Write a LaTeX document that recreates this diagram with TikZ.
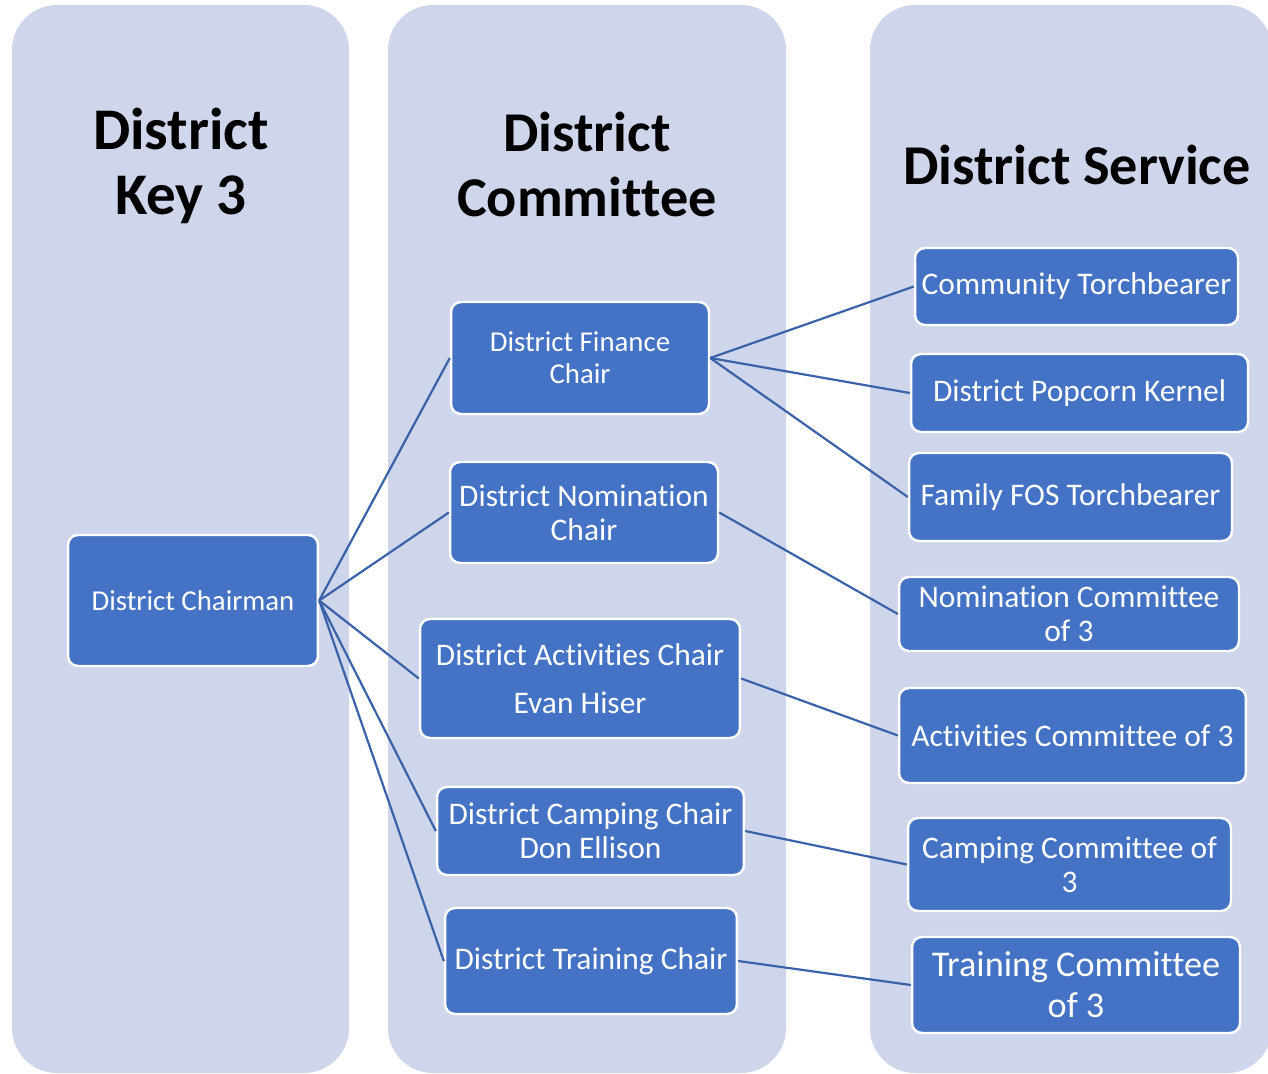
\documentclass[tikz,border=0pt]{standalone}
\usepackage{fontspec}
\setmainfont{Carlito}[Ligatures={NoCommon}]
\usetikzlibrary{positioning}
\definecolor{lanebg}{HTML}{CFD5EA}
\definecolor{roleblue}{HTML}{4472C4}
\definecolor{linkblue}{HTML}{3A62A9}

\tikzset{
  lane/.style={fill=lanebg, rounded corners=0.9cm},
  head/.style={font=\bfseries\fontsize{32}{37}\selectfont, align=center, inner sep=0pt},
  role/.style={fill=roleblue, draw=white, line width=1.4pt, rounded corners=0.2cm,
    text=white, align=center, inner sep=0pt, font=\fontsize{17.9}{19.3}\selectfont},
  small/.style={font=\fontsize{16.4}{18.1}\selectfont},
  big/.style={font=\fontsize{20.6}{23.2}\selectfont},
  link/.style={draw=linkblue, line width=1.25pt}
}

\begin{document}
\begin{tikzpicture}[x=0.02cm, y=-0.02cm]
  \useasboundingbox (0,0) rectangle (1268,1074);

  % Draw the lanes
  \fill[lane] (12,5) rectangle (349,1073);
  \fill[lane] (388,5) rectangle (786,1073);
  \fill[lane] (870,5) rectangle (1272,1073);

  % Lane headings
  \node[head, font=\bfseries\fontsize{33.6}{37}\selectfont] (keyhead) at (181,166) {District\\Key 3};
  \node[head] (comhead) at (587,164) {District\\Committee};
  \node[head] (srvhead) at (1077,165) {District Service};

  % Key 3
  \node[role, small, minimum width=5cm, minimum height=2.62cm] (chairman) at (193,600.5) {District Chairman};

  % Committee chairs
  \node[role, small, minimum width=5.16cm, minimum height=2.24cm] (finance) at (580,358) {District Finance\\Chair};
  \node[role, minimum width=5.36cm, minimum height=2.02cm] (nomination) at (584,512.5) {District Nomination\\Chair};
  \node[role, minimum width=6.4cm, minimum height=2.38cm] (activities) at (580,678.5) {District Activities Chair\\[7.9pt]Evan Hiser};
  \node[role, minimum width=6.14cm, minimum height=1.76cm] (camping) at (590.5,831) {District Camping Chair\\Don Ellison};
  \node[role, minimum width=5.84cm, minimum height=2.12cm] (training) at (591,961) {District Training Chair};

  % Service positions
  \node[role, minimum width=6.46cm, minimum height=1.54cm] (torch) at (1076.5,286.5) {Community Torchbearer};
  \node[role, minimum width=6.74cm, minimum height=1.56cm] (popcorn) at (1079.5,393) {District Popcorn Kernel};
  \node[role, minimum width=6.46cm, minimum height=1.76cm] (fos) at (1070.5,497) {Family FOS Torchbearer};
  \node[role, minimum width=6.8cm, minimum height=1.48cm] (nomcom) at (1069,614) {Nomination Committee\\of 3};
  \node[role, minimum width=6.94cm, minimum height=1.9cm] (actcom) at (1072.5,735.5) {Activities Committee of 3};
  \node[role, minimum width=6.46cm, minimum height=1.86cm] (campcom) at (1069.5,864.5) {Camping Committee of\\3};
  \node[role, big, minimum width=6.56cm, minimum height=1.92cm] (traincom) at (1076,985) {Training Committee\\of 3};

  % Connectors
  \foreach \chair in {finance, nomination, activities, camping, training}
    \draw[link] (chairman.east) -- (\chair.west);
  \foreach \post in {torch, popcorn, fos}
    \draw[link] (finance.east) -- (\post.west);
  \draw[link] (nomination.east) -- (nomcom.west);
  \draw[link] (activities.east) -- (actcom.west);
  \draw[link] (camping.east) -- (campcom.west);
  \draw[link] (training.east) -- (traincom.west);
\end{tikzpicture}
\end{document}
